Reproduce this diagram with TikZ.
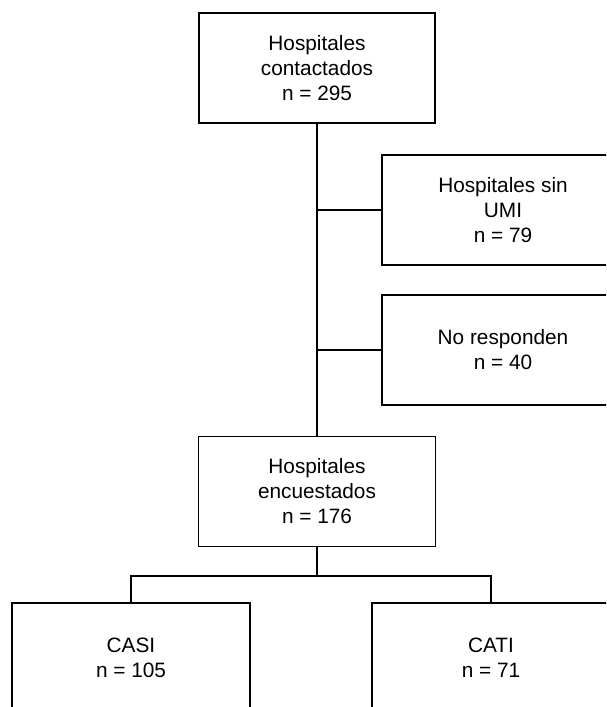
\documentclass[tikz,border=0pt]{standalone}
\usepackage{fontspec}
\setmainfont{Liberation Sans}
\begin{document}
\begin{tikzpicture}[x=1pt,y=-1pt,
  box/.style={draw=black, line width=1.3pt, minimum height=110pt, align=center,
    font=\fontsize{20.8}{25}\selectfont, inner sep=0pt},
  conn/.style={draw=black, line width=2.2pt}]
\path[use as bounding box] (0,0) rectangle (606,707);
\clip (0,0) rectangle (606,707);
\node[box, minimum width=236pt] (top) at (317,68) {Hospitales\\contactados\\n = 295};
\node[box, minimum width=242pt] (r1) at (503,210) {Hospitales sin\\UMI\\n = 79};
\node[box, minimum width=242pt] (r2) at (503,350) {No responden\\n = 40};
\node[box, minimum width=237pt] (mid) at (317,491.5) {Hospitales\\encuestados\\n = 176};
\node[box, minimum width=238pt] (bl) at (131,658) {CASI\\n = 105};
\node[box, minimum width=238pt] (br) at (491,658) {CATI\\n = 71};
\coordinate (j) at (317,576);
\draw[conn] (top.south) -- (mid.north);
\draw[conn] (r1.west) -- (r1.west -| top.south);
\draw[conn] (r2.west) -- (r2.west -| top.south);
\draw[conn] (mid.south) -- (j);
\draw[conn] (bl.north) |- (j) -| (br.north);
\end{tikzpicture}
\end{document}
